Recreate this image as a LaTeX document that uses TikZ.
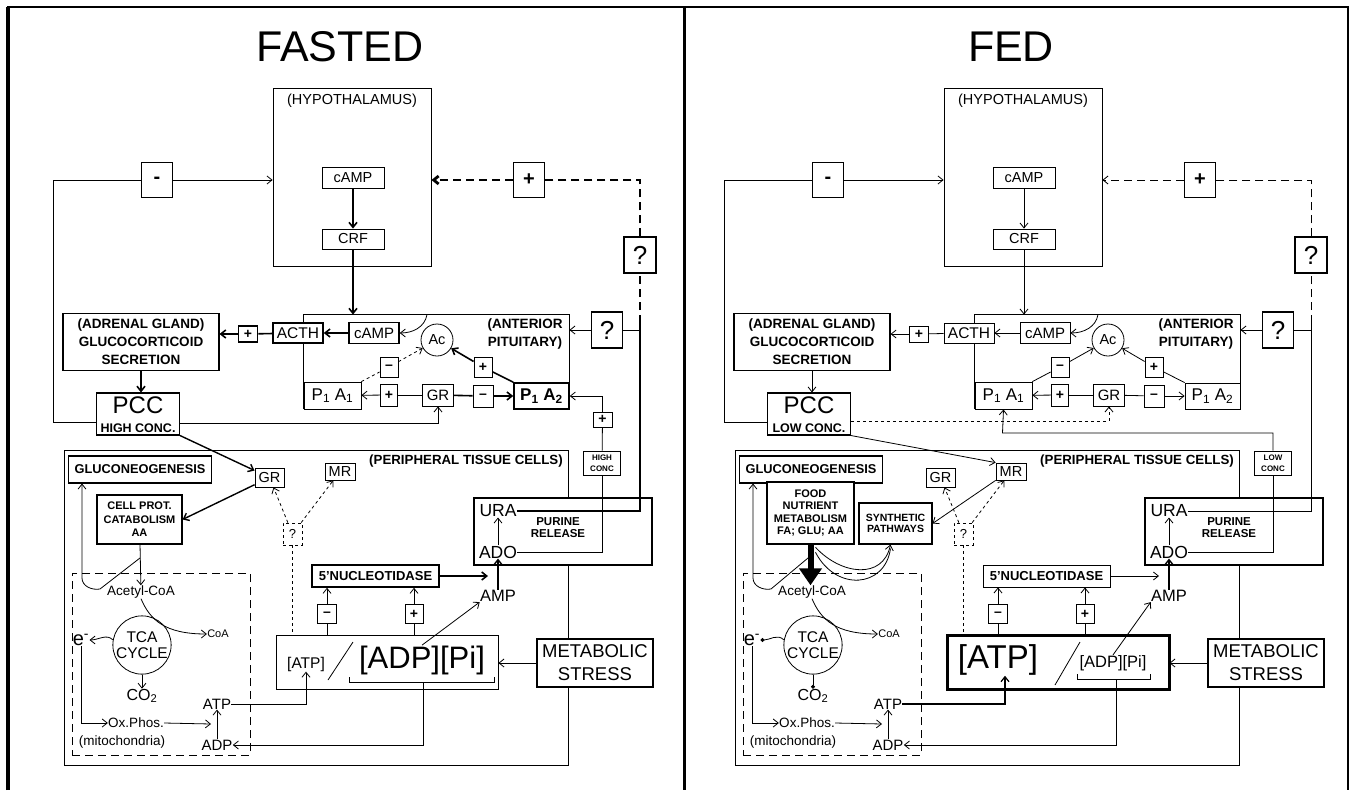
\documentclass[tikz,border=0pt]{standalone}
\usepackage{fontspec}
\setmainfont{Liberation Sans}
\usepackage{tikz}
\usetikzlibrary{
  arrows.meta,
  calc
}

\begin{document}
\begin{tikzpicture}[
        x=1pt, y=-1pt,
        >={Straight Barb[length=5pt,width=8pt]},
        line width=0.8pt,
        fs/.style 2 args={font=\fontsize{#1}{#2}\selectfont},
        bfs/.style 2 args={font=\fontsize{#1}{#2}\selectfont\bfseries},
        box/.style={draw, inner sep=0pt, fill=white},
        txt/.style={inner sep=0pt, align=center},
        sgn/.style={box, font=\fontsize{14}{14}\selectfont\bfseries},
        bigsgn/.style={box, line width=1.2pt, minimum width=31pt, minimum height=35pt, font=\fontsize{20}{20}\selectfont\bfseries},
        qbox/.style={box, line width=1.2pt, minimum width=32pt, minimum height=36pt, font=\fontsize{26}{26}\selectfont},
        title/.style={font=\fontsize{43}{43}\selectfont},
        dot/.style={-{Circle[length=4pt]}}
    ]
    \useasboundingbox (0,0) rectangle (1352,790);
    % Moldura dos dois quadros
    \draw[line width=4pt] (8,790) -- (8,7);
    \draw[line width=2pt] (7,7) -- (1349,7);
    \draw[line width=3pt] (684,7) -- (684,790);
    \draw[line width=2pt] (1348,7) -- (1348,790);

    % Partes comuns aos dois quadros
    \foreach \p/\dx/\w/\q/\b/\c in {fst/0/1.6/2.8/\bfseries/HIGH, fed/671/0.8/0.8/\mdseries/LOW} {
      \begin{scope}[xshift=\dx pt, hv/.style={line width=\w pt}]
        % hipotalamo
        \node[box, minimum width=158pt, minimum height=178pt] (\p-hypo) at (352,177) {};
        \node[txt, fs={14.5}{15}] (\p-hypolab) at (352,101) {(HYPOTHALAMUS)};
        \node[box, minimum width=62pt, minimum height=21pt, fs={14.5}{14.5}] (\p-hcamp) at (353,178) {cAMP};
        \node[box, minimum width=62pt, minimum height=20pt, fs={14.5}{14.5}] (\p-crf) at (353,239) {CRF};
        \draw[->, hv] (\p-hcamp) -- (\p-crf);
        % hipofise anterior
        \node[minimum width=265pt, minimum height=94pt] (\p-pit) at (436.5,362) {};
        \draw (\p-pit.south west) -- (\p-pit.north west) -- (\p-pit.north east) -- (\p-pit.south east);
        \draw[->, hv] (\p-crf) -- (\p-crf |- \p-pit.north);
        \node[txt, bfs={13.5}{18}] (\p-pitlab) at (525,334) {(ANTERIOR\\PITUITARY)};
        \node[box, hv, minimum width=50pt, minimum height=21pt, fs={15}{15}] (\p-pcamp) at (374,333) {cAMP};
        \node[box, hv, minimum width=50pt, minimum height=20pt, fs={15.5}{15.5}] (\p-acth) at (298,333) {ACTH};
        \node[sgn, hv, minimum width=19pt, minimum height=16pt] (\p-acthplus) at (248,334) {+};
        \node[box, line width=1.1pt, minimum width=156pt, minimum height=57pt, bfs={13.5}{18}, align=center] (\p-adr) at (141,342) {(ADRENAL GLAND)\\GLUCOCORTICOID\\SECRETION};
        \node[draw, circle, minimum size=32pt, inner sep=0pt, fs={14.5}{14.5}] (\p-ac) at (437,340) {Ac};
        \node[sgn, minimum width=18pt, minimum height=20pt] (\p-acminus) at (389,367) {--};
        \node[sgn, minimum width=18pt, minimum height=20pt] (\p-acplus) at (483,367) {+};
        \node[box, minimum width=57pt, minimum height=27pt, fs={17}{17}] (\p-pa1) at (332.5,395.5) {P\textsubscript{1} A\textsubscript{1}};
        \node[box, line width=\w pt, minimum width=55pt, minimum height=26pt, fs={17}{17}] (\p-pa2) at (541.5,396) {\b P\textsubscript{1} A\textsubscript{2}};
        \node[sgn, minimum width=17pt, minimum height=22pt] (\p-pplus) at (389,395) {+};
        \node[box, minimum width=31pt, minimum height=22pt, fs={15}{15}] (\p-pgr) at (438,395) {GR};
        \node[sgn, minimum width=20pt, minimum height=22pt] (\p-pminus) at (483,396) {--};
        \draw[->, hv] (\p-pcamp) -- (\p-acth);
        \draw[hv] (\p-acth) -- (\p-acthplus);
        \draw[->, hv] (\p-acthplus) -- (\p-adr.east |- \p-acthplus);
        \draw[->] ($(\p-ac.north)+(-10,-9)$) to[out=-100, in=0] (\p-pcamp.east);
        \draw[hv] (\p-pa2.north west) -- (\p-acplus);
        \draw[->, hv] (\p-acplus) -- (\p-ac);
        \draw (\p-pgr) -- (\p-pplus);
        \draw[->] (\p-pplus) -- (\p-pa1);
        \draw[hv] (\p-pgr) -- (\p-pminus);
        \draw[->, hv] (\p-pminus) -- (\p-pa2);
        % PCC e retroalimentacao
        \node[box, line width=1.1pt, minimum width=83pt, minimum height=42pt] (\p-pcc) at (138,414) {};
        \node[txt, fs={24}{24}] (\p-pcct) at (138,405) {PCC};
        \node[txt, bfs={12.5}{12.5}] (\p-pccc) at (138,428) {\c\ CONC.};
        \draw[->, hv] (\p-adr.south) -- (\p-adr.south |- \p-pcc.north);
        \node[bigsgn] (\p-fbminus) at (157,180) {-};
        \node[bigsgn] (\p-fbplus) at (529,180) {+};
        \node[qbox] (\p-q1) at (640,255) {?};
        \node[qbox, minimum width=31pt] (\p-q2) at (607,330) {?};
        \coordinate (\p-fbc) at (53,180);
        \draw ($(\p-pcc.west)+(0,8)$) -| (\p-fbc) -- (\p-fbminus);
        \draw[->] (\p-fbminus) -- (\p-hypo.west |- \p-fbminus);
        % celulas perifericas
        \node[draw, minimum width=504pt, minimum height=315pt] (\p-peri) at (316,607.5) {};
        \node[txt, bfs={13.3}{13.3}] (\p-perilab) at (466,461) {(PERIPHERAL TISSUE CELLS)};
        \node[box, line width=1.1pt, minimum width=143pt, minimum height=27pt, bfs={12.8}{12.8}] (\p-gluco) at (140,469.5) {GLUCONEOGENESIS};
        \node[box, minimum width=29pt, minimum height=19pt, fs={14.5}{14.5}] (\p-gr) at (269.5,477.5) {GR};
        \node[box, minimum width=30pt, minimum height=17pt, fs={14.5}{14.5}] (\p-mr) at (340,471.5) {MR};
        \node[box, dashed, minimum width=19pt, minimum height=22pt, fs={13}{13}] (\p-q3) at (292.5,534) {?};
        \draw[dashed, ->] (\p-q3) -- (\p-gr);
        \draw[dashed, ->] (\p-q3) -- (\p-mr);
        % mitocondria
        \node[draw, dash pattern=on 8pt off 5pt, minimum width=178pt, minimum height=182pt] (\p-mito) at (161,664) {};
        \node[txt, fs={13.5}{13.5}] (\p-acoa) at (141,592) {Acetyl-CoA};
        \node[draw, circle, minimum size=58pt, inner sep=0pt, align=center, fs={15.5}{16}] (\p-tca) at (142,645) {TCA\\CYCLE};
        \node[txt, fs={11}{11}] (\p-coa) at (218,634) {CoA};
        \node[txt, fs={20}{20}] (\p-e) at (81,640) {e\textsuperscript{-}};
        \node[txt, fs={16}{16}] (\p-co2) at (142,696) {CO\textsubscript{2}};
        \node[txt, fs={13.5}{13.5}] (\p-ox) at (136,723) {Ox.Phos.};
        \node[txt, fs={15}{15}] (\p-atp) at (217,704) {ATP};
        \node[txt, fs={15}{15}] (\p-adp) at (217,745) {ADP};
        \node[txt, fs={13.5}{13.5}] (\p-mitolab) at (122,742) {(mitochondria)};
        \coordinate (\p-oxend) at (211,724);
        \draw[->] (\p-acoa.south) .. controls (150,620) and (165,634) .. (\p-coa.west);
        \draw[->] (\p-e.south) |- (\p-ox.west);
        \draw[->] (\p-ox.east) -- (\p-oxend);
        \draw[->] (\p-adp) -- (\p-atp);
        % nucleotidase, AMP e purinas
        \node[box, hv, minimum width=127pt, minimum height=22pt, bfs={13}{13}] (\p-nuc) at (375.5,576) {5'NUCLEOTIDASE};
        \node[txt, fs={16.5}{16.5}] (\p-amp) at (498,596) {AMP};
        \node[box, line width=1.1pt, minimum width=178pt, minimum height=67pt] (\p-pur) at (563,531.5) {};
        \node[txt, fs={17.5}{17.5}] (\p-ura) at (498,511) {URA};
        \node[txt, fs={17.5}{17.5}] (\p-ado) at (498,552) {ADO};
        \node[txt, bfs={11.5}{12}] (\p-purlab) at (558,528) {PURINE\\RELEASE};
        \coordinate (\p-ampin) at (488,576);
        \draw[->, hv] (\p-nuc) -- (\p-ampin);
        \draw[->, line width=1.4pt] (\p-amp) -- (\p-ado);
        \draw[->] (\p-ado) -- (\p-ura);
        \node[box, minimum width=37pt, minimum height=24pt, bfs={8}{10.5}, align=center] (\p-conc) at (602,463) {\c\\CONC};
        \draw (\p-ado.east) -| (\p-conc);
        % caminho de volta ao hipotalamo
        \coordinate (\p-cq) at (640,323);
        \coordinate (\p-cq2) at (640,330);
        \draw[line width=\q pt] (\p-ura.east) -| (\p-cq);
        \draw[line width=\q pt, dash pattern=on 8pt off 5pt] (\p-cq) -- (\p-q1);
        \draw[line width=\q pt, dash pattern=on 8pt off 5pt] (\p-q1) |- (\p-fbplus);
        \draw[line width=\q pt, dash pattern=on 8pt off 5pt, ->] (\p-fbplus) -- (\p-hypo.east |- \p-fbplus);
        \draw (\p-cq2) -- (\p-q2);
        \draw[->] (\p-q2) -- (\p-pit.east |- \p-q2);
        % razao ATP / ADP
        \node[minimum width=221pt, minimum height=53pt] (\p-ratio) at (387.5,662.5) {};
        \node[sgn, minimum width=19pt, minimum height=19pt] (\p-nminus) at (327,614) {--};
        \node[sgn, minimum width=18pt, minimum height=19pt] (\p-nplus) at (414,614) {+};
        \draw (\p-nminus |- \p-ratio.north) -- (\p-nminus);
        \draw[->] (\p-nminus) -- (\p-nminus |- \p-nuc.south);
        \draw (\p-nplus |- \p-ratio.north) -- (\p-nplus);
        \draw[->] (\p-nplus) -- (\p-nplus |- \p-nuc.south);
        \draw[dashed] (\p-q3) -- (\p-q3 |- \p-ratio.north);
        \node[box, line width=1.1pt, minimum width=116pt, minimum height=48pt, fs={18.5}{23}, align=center] (\p-met) at (595,663) {METABOLIC\\STRESS};
        \draw[->] (\p-met) -- (\p-ratio.east |- \p-met);
      \end{scope}
    }

    % Quadro em jejum
    \begin{scope}
      \node[title] (fst-title) at (340,47) {FASTED};
      \draw[dashed] (fst-pa1.north east) -- (fst-acminus);
      \draw[dashed, ->] (fst-acminus) -- (fst-ac);
      \draw[->] ($(fst-pcc.east)+(0,9)$) -| (fst-pgr.south);
      \node[sgn, minimum width=19pt, minimum height=15pt] (fst-concplus) at (602.5,419.5) {+};
      \draw (fst-conc) -- (fst-concplus);
      \draw[->] (fst-concplus) |- (fst-pa2.east);
      \node[box, line width=1.1pt, minimum width=85pt, minimum height=49pt, bfs={11}{13.5}, align=center] (fst-cell) at (139.5,519.5) {CELL PROT.\\CATABOLISM\\AA};
      \draw[->, line width=1.4pt] (fst-pcc.south east) -- (fst-gr);
      \draw[->, line width=1.4pt] (fst-gr) -- (fst-cell.east);
      \draw[->] (fst-cell) -- (fst-acoa);
      \coordinate (fst-split) at (140,558);
      \coordinate (fst-glc) at (82,578);
      \draw[->] (fst-split) -- (100,589) to[out=190, in=-90] (fst-glc) -- (fst-glc |- fst-gluco.south);
      \draw[->] (fst-tca.170) to[out=135, in=0] (fst-e.east);
      \draw[->] (fst-tca) -- (fst-co2);
      \draw[line width=1.1pt] (fst-ratio.south west) rectangle (fst-ratio.north east);
      \node[txt, fs={15.5}{15.5}] (fst-atpt) at (306,664) {[ATP]};
      \node[txt, fs={31}{31}] (fst-adpt) at (422,660) {[ADP][Pi]};
      \draw (328,680) -- (353,642);
      \draw (349,677) -- (349,682) -- (494,682) -- (494,677);
      \coordinate (fst-brmid) at (423,682);
      \draw[->] (fst-brmid) |- (fst-adp.east);
      \draw[->] (fst-adpt.north) -- (fst-amp.south west);
      \draw[->] (fst-atp.east) -| (fst-atpt.south);
    \end{scope}

    % Quadro alimentado
    \begin{scope}[xshift=671pt]
      \node[title] (fed-title) at (340,47) {FED};
      \draw (fed-pa1.north east) -- (fed-acminus);
      \draw[->] (fed-acminus) -- (fed-ac);
      \draw[dashed, ->] ($(fed-pcc.east)+(0,7)$) -| (fed-pgr.south);
      \coordinate (fed-lowc) at (331.5,433);
      \draw[->] (fed-conc.north) |- (fed-lowc) -- (fed-pa1.south);
      \node[box, line width=2.6pt, minimum width=87pt, minimum height=62pt, bfs={11}{12.5}, align=center] (fed-food) at (139.5,513) {FOOD\\NUTRIENT\\METABOLISM\\FA; GLU; AA};
      \node[box, line width=1.1pt, minimum width=73pt, minimum height=41pt, bfs={10.5}{11}, align=center] (fed-syn) at (224.5,523.5) {SYNTHETIC\\PATHWAYS};
      \draw[->] (fed-pcc.south east) -- (fed-mr.north west);
      \draw[->] (fed-mr.south west) -- (fed-syn.east);
      \draw[line width=6pt, -{Triangle[length=17pt,width=22pt]}] (fed-food.south) -- (fed-food.south |- fed-acoa.north);
      \draw[->] ($(fed-food.south)+(5,2)$) .. controls (170,575) and (212,580) .. ($(fed-syn.south)+(-5,0)$);
      \draw ($(fed-food.south)+(5,7)$) .. controls (165,592) and (214,588) .. ($(fed-syn.south)+(-5,4)$);
      \coordinate (fed-split) at (137,558);
      \coordinate (fed-glc) at (82,578);
      \draw[->] (fed-split) -- (100,589) to[out=190, in=-90] (fed-glc) -- (fed-glc |- fed-gluco.south);
      \draw[dot] (fed-tca.170) to[out=135, in=0] (fed-e.east);
      \draw[dot] (fed-tca) -- (fed-co2);
      \draw[line width=2.6pt] (fed-ratio.south west) rectangle (fed-ratio.north east);
      \node[txt, fs={33}{33}] (fed-atpt) at (327,660) {[ATP]};
      \node[txt, fs={16.5}{16.5}] (fed-adpt) at (442,663) {[ADP][Pi]};
      \draw (384,685) -- (409,642);
      \draw (406,674) -- (406,679) -- (479,679) -- (479,674);
      \coordinate (fed-brmid) at (445,679);
      \draw[->] (fed-brmid) |- (fed-adp.east);
      \draw[->] (fed-adpt.north) -- (fed-amp.south west);
      \draw[->, line width=1.2pt] (fed-atp.east) -| ($(fed-atpt.south)+(7,0)$);
    \end{scope}
\end{tikzpicture}
\end{document}
